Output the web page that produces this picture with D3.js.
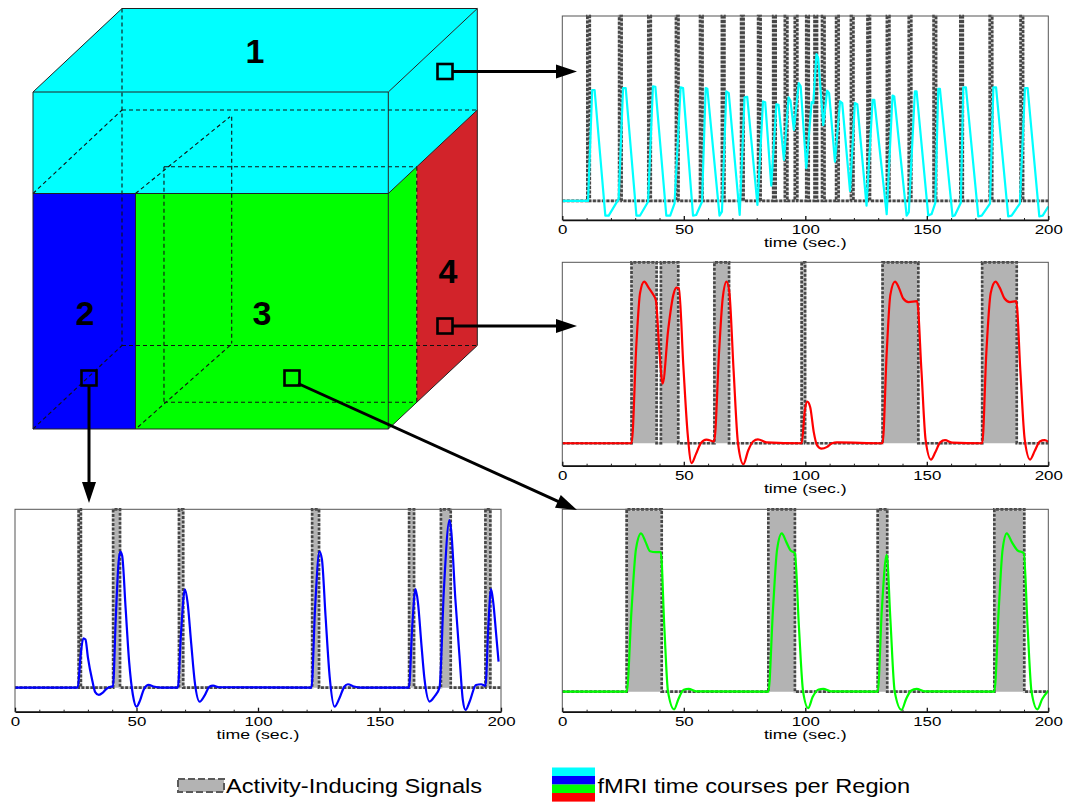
<!DOCTYPE html>
<html>
<head>
<meta charset="utf-8">
<script src="https://cdn.jsdelivr.net/npm/d3@7"></script>
<style>
  body { margin: 0; background: #fff; }
  svg { display: block; font-family: "Liberation Sans", Arial, Helvetica, sans-serif; }
</style>
</head>
<body>
<div id="chart"></div>
<script>
// time axis (seconds)
const timeTicks = [0, 50, 100, 150, 200]
const minorTicks = [10, 20, 30, 40, 60, 70, 80, 90, 110, 120, 130, 140, 160, 170, 180, 190]

// activity-inducing signals per region, [onset, offset] in sec.
const region1Pulses = [[10.3, 11.3], [23.4, 24.4], [35.4, 36.4], [46.8, 47.8], [56.7, 57.7], [65.7, 66.7],
  [73.6, 74.6], [80.6, 81.6], [86.8, 87.8], [91.6, 92.6], [95.7, 96.7], [100.4, 101.4], [103.8, 104.8],
  [106.9, 107.9], [112.7, 113.7], [118.8, 119.8], [125.6, 126.6], [133.6, 134.6], [142.6, 143.6],
  [152.8, 153.8], [163.8, 164.8], [175.9, 176.9], [188.6, 189.6]]
const region2Pulses = [[26.2, 27.1], [40.4, 43.2], [67.5, 69.2], [122.3, 125.1], [162.2, 164.2], [175.3, 179.3], [193.6, 195.6]]
const region3Pulses = [[26.5, 40.9], [84.8, 95.7], [129.8, 133.7], [177.8, 190.1]]
const region4Pulses = [[28.5, 38.8], [40.6, 47.7], [62.6, 68.6], [98.5, 99.9], [131.8, 146.5], [172.8, 187.0]]

// fMRI time courses per region, [time, signal]
const region1Bold = [[0, 0], [10.6, 0], [12.3, 0.6], [13.3, 0.6], [17.7, -0.079], [19.1, -0.079], [23.2, 0.011],
  [25, 0.61], [26.1, 0.61], [30.5, -0.079], [32, -0.079], [35.3, -0.004], [37.3, 0.62], [38.3, 0.617],
  [42.8, -0.079], [44.4, -0.079], [46.2, -0.013], [48.7, 0.614], [49.7, 0.61], [53.8, -0.079], [55.1, -0.076],
  [57.5, -0.004], [59, 0.61], [59.7, 0.606], [64.7, -0.079], [65.7, -0.058], [67.5, 0.592], [68.5, 0.583],
  [73, -0.076], [75, 0.56], [76.1, 0.563], [80.3, -0.022], [82.6, 0.538], [83.5, 0.534], [86, 0.083],
  [88.1, 0.523], [89, 0.52], [91.2, 0.222], [93.1, 0.56], [93.9, 0.542], [95.3, 0.384], [97.3, 0.637],
  [98.1, 0.62], [100.4, 0.177], [102.6, 0.534], [103.3, 0.529], [104.6, 0.794], [105.3, 0.773], [107.4, 0.41],
  [109, 0.596], [109.8, 0.583], [112.2, 0.213], [114.3, 0.538], [115.2, 0.529], [118.4, 0.054], [120.4, 0.529],
  [121.4, 0.523], [125.2, -0.025], [127.7, 0.547], [128.4, 0.547], [133.5, -0.072], [135.9, 0.57], [136.6, 0.565],
  [141.7, -0.079], [142.6, -0.06], [145.1, 0.592], [145.8, 0.592], [150.6, -0.079], [152, -0.07], [153.5, -0.01],
  [154.7, 0.606], [155.4, 0.606], [160.6, -0.083], [161.5, -0.079], [164, -0.01], [165, 0.614], [166.1, 0.614],
  [171.2, -0.083], [172.6, -0.079], [176, -0.014], [177.4, 0.614], [178.5, 0.614], [183.5, -0.083], [184.9, -0.079],
  [188.3, -0.014], [190.4, 0.61], [191.5, 0.61], [196.3, -0.083], [197.7, -0.079], [200, -0.03]]
const region2Bold = [[0, 0], [25.8, 0], [27, 0.18], [28.1, 0.277], [29, 0.27], [30, 0.17], [31.8, 0.04], [33, -0.025],
  [34.5, -0.041], [36, -0.03], [37.5, -0.008], [39.5, 0.006], [40.3, 0.005], [41.5, 0.4], [42.6, 0.7], [43.3, 0.763],
  [44.1, 0.74], [45.5, 0.45], [47, 0.14], [48.5, -0.04], [50, -0.107], [51.5, -0.07], [53, -0.01], [55, 0.015],
  [57, 0.006], [60, 0], [67, 0], [68.3, 0.3], [69.9, 0.551], [71, 0.48], [72.5, 0.25], [74, 0.03], [76, -0.079],
  [78, -0.045], [80, 0.005], [81.5, 0.011], [84, 0.002], [122, 0], [123.5, 0.45], [125.3, 0.763], [126.3, 0.72],
  [127.8, 0.4], [129.5, 0.06], [131.5, -0.107], [133.5, -0.06], [135.5, 0.005], [137, 0.019], [139.5, 0.006],
  [142, 0], [162.1, 0], [163.5, 0.35], [164.8, 0.552], [165.8, 0.48], [167.2, 0.25], [168.5, 0.05], [170.6, -0.078],
  [172.6, -0.05], [174.7, 0], [176.5, 0.55], [178.8, 0.94], [179.5, 0.88], [181.2, 0.5], [182.9, 0.18], [184.3, -0.07],
  [185.4, -0.125], [187.1, -0.078], [189.7, 0.015], [191.8, 0.019], [193.6, 0.01], [194.8, 0.35], [195.9, 0.552],
  [196.8, 0.48], [198, 0.3], [199, 0.146]]
const region3Bold = [[0, 0], [26.5, 0], [28.5, 0.45], [30.3, 0.78], [32.4, 0.868], [34.3, 0.82], [36.1, 0.77],
  [38.5, 0.765], [40.5, 0.765], [42, 0.35], [43.5, 0], [46, -0.097], [47.8, -0.04], [50, 0.01], [52, 0.015],
  [55, 0.002], [84.8, 0], [86.7, 0.45], [88.4, 0.78], [90.3, 0.868], [92.2, 0.82], [93.9, 0.775], [95.7, 0.76],
  [97.4, 0.35], [99.1, 0], [101.2, -0.09], [103, -0.03], [105.5, 0.012], [107.4, 0.015], [110.5, 0.002],
  [129.8, 0], [131.5, 0.45], [133.5, 0.75], [135, 0.4], [136.8, 0], [139.6, -0.1], [141.5, -0.04], [143.5, 0.005],
  [145.8, 0.015], [149, 0.002], [177.8, 0], [179.6, 0.45], [181.2, 0.78], [182.9, 0.868], [185, 0.82],
  [187.3, 0.775], [189.9, 0.76], [191.5, 0.35], [193.1, 0], [195.5, -0.097], [197.5, -0.04], [200, 0.005]]
const region4Bold = [[0, 0], [28.5, 0], [30.5, 0.55], [32, 0.83], [33.7, 0.893], [35.5, 0.86], [37, 0.83],
  [38.5, 0.79], [40, 0.5], [41.3, 0.33], [43.6, 0.63], [45.7, 0.82], [47, 0.86], [48, 0.856], [49.8, 0.43],
  [51.6, 0.05], [53.2, -0.11], [55, -0.06], [57, 0], [59.3, 0.02], [62.5, 0.01], [64.5, 0.5], [66, 0.8],
  [67.6, 0.893], [68.7, 0.84], [70.5, 0.4], [72.3, 0], [74.5, -0.116], [76.5, -0.04], [78.5, 0.01], [80.5, 0.022],
  [84, 0.005], [98.5, 0], [99.8, 0.18], [100.8, 0.23], [102, 0.2], [103.5, 0.06], [104.8, -0.01], [106.7, -0.03],
  [109, -0.02], [111, 0], [113, 0.005], [131.8, 0], [133.5, 0.5], [135, 0.82], [136.9, 0.893], [138.5, 0.86],
  [140.3, 0.8], [142.5, 0.78], [146, 0.785], [147.8, 0.4], [149.5, 0.02], [151.7, -0.09], [153.5, -0.05],
  [155.5, 0.005], [157.5, 0.017], [160.5, 0.003], [172.8, 0], [174.5, 0.5], [176.3, 0.83], [178.3, 0.893],
  [180, 0.86], [182, 0.8], [184.2, 0.78], [186.8, 0.785], [188.5, 0.4], [190.3, 0.02], [192.5, -0.09],
  [194.5, -0.04], [196.5, 0.01], [198.5, 0.017], [200, 0.008]]

const regionLabels = ['1', '2', '3', '4']
const regionColors = ['#00ffff', '#0000ff', '#00ff00', '#ff0000']
const legendLabels = ['Activity-Inducing Signals', 'fMRI time courses per Region']

const W = 1065, H = 803
const plotWidth = 486

const svg = d3.select('#chart').append('svg')
  .attr('width', W)
  .attr('height', H)

svg.append('rect').attr('width', W).attr('height', H).attr('fill', '#fff')

const panels = [
  { pulses: region1Pulses, bold: region1Bold, color: regionColors[0], left: 562.3, top: 16, bottom: 220, yMin: -0.103, curve: d3.curveLinear },
  { pulses: region4Pulses, bold: region4Bold, color: regionColors[3], left: 562.3, top: 262.3, bottom: 465.7, yMin: -0.124, curve: d3.curveMonotoneX },
  { pulses: region3Pulses, bold: region3Bold, color: regionColors[2], left: 562.3, top: 509.3, bottom: 711.7, yMin: -0.11, curve: d3.curveMonotoneX },
  { pulses: region2Pulses, bold: region2Bold, color: regionColors[1], left: 15, top: 509.3, bottom: 711.7, yMin: -0.135, curve: d3.curveMonotoneX }
]

panels.forEach(p => {
  const x = d3.scaleLinear().domain([0, 200]).range([p.left, p.left + plotWidth])
  const y = d3.scaleLinear().domain([p.yMin, 1]).range([p.bottom, p.top])
  const g = svg.append('g')

  // step function of the activity-inducing signal
  const steps = [[0, 0]]
  p.pulses.forEach(([on, off]) => steps.push([on, 0], [on, 1], [off, 1], [off, 0]))
  steps.push([200, 0])

  g.append('path')
    .datum(steps)
    .attr('d', d3.area().x(d => x(d[0])).y0(y(0)).y1(d => y(d[1])))
    .attr('fill', '#b3b3b3')

  const stepLine = d3.line().x(d => x(d[0])).y(d => y(d[1]))
  g.append('path')
    .datum(steps)
    .attr('d', stepLine)
    .attr('fill', 'none')
    .attr('stroke', '#d4d4d4')
    .attr('stroke-width', 2.7)
  g.append('path')
    .datum(steps)
    .attr('d', stepLine)
    .attr('fill', 'none')
    .attr('stroke', '#474747')
    .attr('stroke-width', 2.7)
    .attr('stroke-dasharray', '3,1.5')

  // fMRI response
  g.append('path')
    .datum(p.bold)
    .attr('d', d3.line().curve(p.curve).x(d => x(d[0])).y(d => y(d[1])))
    .attr('fill', 'none')
    .attr('stroke', p.color)
    .attr('stroke-width', 2.2)
    .attr('stroke-linejoin', 'round')

  // frame
  g.append('rect')
    .attr('x', p.left)
    .attr('y', p.top)
    .attr('width', plotWidth)
    .attr('height', p.bottom - p.top)
    .attr('fill', 'none')
    .attr('stroke', '#555')
    .attr('stroke-width', 1)

  g.append('g')
    .attr('transform', `translate(0,${p.bottom})`)
    .call(d3.axisBottom(x).tickValues(minorTicks).tickSize(-2).tickSizeOuter(0).tickFormat(''))
    .call(a => a.select('.domain').remove())
    .selectAll('line').attr('stroke', '#222')

  const ax = g.append('g')
    .attr('transform', `translate(0,${p.bottom})`)
    .call(d3.axisBottom(x).tickValues(timeTicks).tickSize(-4).tickSizeOuter(0).tickPadding(5.2))
    .attr('font-size', 12.8)
    .attr('font-family', '"Liberation Sans", Arial, sans-serif')
  ax.select('.domain').attr('stroke', '#111').attr('stroke-width', 1.5)
  ax.selectAll('line').attr('stroke', '#111').attr('stroke-width', 1.3)
  ax.selectAll('text').attr('fill', '#000').attr('transform', 'scale(1.32,1)')

  g.append('text')
    .attr('transform', `translate(${p.left + plotWidth / 2},${p.bottom + 27}) scale(1.48,1)`)
    .attr('text-anchor', 'middle')
    .attr('font-size', 12)
    .text('time (sec.)')
})

// ---- cube with the four regions ----
const cube = svg.append('g')
const F = { x0: 33, x1: 388.3, y0: 92, y1: 429 }   // front face
const D = [89, -83.5]                               // depth vector
const layerY = 193.5, splitX = 135.5, redDepth = 0.32
const pt = (x, y, k = 0) => [x + D[0] * k, y + D[1] * k]

const faces = [
  { pts: [pt(F.x0, F.y0), pt(F.x0, F.y0, 1), pt(F.x1, F.y0, 1), pt(F.x1, F.y0)], fill: regionColors[0] },
  { pts: [pt(F.x0, F.y0), pt(F.x1, F.y0), pt(F.x1, layerY), pt(F.x0, layerY)], fill: regionColors[0] },
  { pts: [pt(F.x1, F.y0), pt(F.x1, F.y0, 1), pt(F.x1, layerY, 1), pt(F.x1, layerY)], fill: regionColors[0] },
  { pts: [pt(F.x0, layerY), pt(splitX, layerY), pt(splitX, F.y1), pt(F.x0, F.y1)], fill: regionColors[1] },
  { pts: [pt(splitX, layerY), pt(F.x1, layerY), pt(F.x1, F.y1), pt(splitX, F.y1)], fill: regionColors[2] },
  { pts: [pt(F.x1, layerY), pt(F.x1, layerY, redDepth), pt(F.x1, F.y1, redDepth), pt(F.x1, F.y1)], fill: regionColors[2] },
  { pts: [pt(F.x1, layerY, redDepth), pt(F.x1, layerY, 1), pt(F.x1, F.y1, 1), pt(F.x1, F.y1, redDepth)], fill: '#d2232a' }
]
cube.selectAll('polygon')
  .data(faces)
  .enter()
  .append('polygon')
  .attr('points', d => d.pts.map(q => q.join(',')).join(' '))
  .attr('fill', d => d.fill)

const hidden = [
  [pt(F.x0, F.y0, 1), pt(F.x0, F.y1, 1)],
  [pt(F.x0, F.y1, 1), pt(F.x1, F.y1, 1)],
  [pt(F.x0, F.y1), pt(F.x0, F.y1, 1)],
  [pt(F.x0, layerY), pt(F.x0, layerY, 1)],
  [pt(F.x0, layerY, 1), pt(F.x1, layerY, 1)],
  [[splitX, layerY], [230, 116.7]],
  [[231.7, 116.7], [231.7, 343.5]],
  [[138, 427], [231.7, 344]],
  [pt(splitX, layerY, redDepth), pt(splitX, F.y1, redDepth)],
  [pt(splitX, layerY, redDepth), pt(F.x1, layerY, redDepth)],
  [pt(splitX, F.y1, redDepth), pt(F.x1, F.y1, redDepth)],
  [pt(F.x1, layerY, redDepth), pt(F.x1, F.y1, redDepth)]
]
cube.selectAll('.hidden')
  .data(hidden)
  .enter()
  .append('line')
  .attr('class', 'hidden')
  .attr('x1', d => d[0][0]).attr('y1', d => d[0][1])
  .attr('x2', d => d[1][0]).attr('y2', d => d[1][1])
  .attr('stroke', '#111')
  .attr('stroke-width', 1.1)
  .attr('stroke-dasharray', '4,3')

const edges = [
  [pt(F.x0, F.y0), pt(F.x1, F.y0)], [pt(F.x0, F.y1), pt(F.x1, F.y1)],
  [pt(F.x0, F.y0), pt(F.x0, F.y1)], [pt(F.x1, F.y0), pt(F.x1, F.y1)],
  [pt(F.x0, F.y0), pt(F.x0, F.y0, 1)], [pt(F.x0, F.y0, 1), pt(F.x1, F.y0, 1)],
  [pt(F.x1, F.y0), pt(F.x1, F.y0, 1)], [pt(F.x1, F.y0, 1), pt(F.x1, F.y1, 1)],
  [pt(F.x1, F.y1), pt(F.x1, F.y1, 1)],
  [pt(F.x0, layerY), pt(F.x1, layerY)], [pt(F.x1, layerY), pt(F.x1, layerY, 1)],
  [pt(splitX, layerY), pt(splitX, F.y1)]
]
cube.selectAll('.edge')
  .data(edges)
  .enter()
  .append('line')
  .attr('class', 'edge')
  .attr('x1', d => d[0][0]).attr('y1', d => d[0][1])
  .attr('x2', d => d[1][0]).attr('y2', d => d[1][1])
  .attr('stroke', '#222')
  .attr('stroke-width', 1)

const labelPos = [[255, 51], [85, 313], [262, 313], [448, 271]]
cube.selectAll('.region-label')
  .data(regionLabels)
  .enter()
  .append('text')
  .attr('class', 'region-label')
  .attr('x', (d, i) => labelPos[i][0])
  .attr('y', (d, i) => labelPos[i][1])
  .attr('text-anchor', 'middle')
  .attr('dominant-baseline', 'central')
  .attr('font-size', 34)
  .attr('font-weight', 'bold')
  .text(d => d)

// ---- probes and arrows to the time courses ----
const probes = [
  { sq: [445, 71.5], from: [453, 71.5], to: [577, 71.5] },
  { sq: [89, 378], from: [89, 386], to: [89, 503] },
  { sq: [292, 378], from: [298, 383.5], to: [577, 510] },
  { sq: [445, 326], from: [453, 326], to: [577, 326] }
]
const arrows = svg.append('g')
probes.forEach(a => {
  arrows.append('rect')
    .attr('x', a.sq[0] - 7.5)
    .attr('y', a.sq[1] - 7.5)
    .attr('width', 15)
    .attr('height', 15)
    .attr('fill', 'none')
    .attr('stroke', '#000')
    .attr('stroke-width', 2.6)
  const dx = a.to[0] - a.from[0], dy = a.to[1] - a.from[1]
  const len = Math.hypot(dx, dy), ux = dx / len, uy = dy / len
  const headL = 21, headW = 7
  const bx = a.to[0] - ux * headL, by = a.to[1] - uy * headL
  arrows.append('line')
    .attr('x1', a.from[0]).attr('y1', a.from[1])
    .attr('x2', bx + ux * 2).attr('y2', by + uy * 2)
    .attr('stroke', '#000')
    .attr('stroke-width', 3)
  arrows.append('polygon')
    .attr('points', [[a.to[0], a.to[1]], [bx - uy * headW, by + ux * headW], [bx + uy * headW, by - ux * headW]].map(q => q.join(',')).join(' '))
    .attr('fill', '#000')
})

// ---- legend ----
const legend = svg.append('g')
legend.append('rect')
  .attr('x', 178).attr('y', 779)
  .attr('width', 46).attr('height', 13)
  .attr('fill', '#b3b3b3')
  .attr('stroke', '#5a5a5a')
  .attr('stroke-width', 2)
  .attr('stroke-dasharray', '7,3')
legend.append('text')
  .attr('transform', 'translate(226,793) scale(1.2,1)')
  .attr('font-size', 19.7)
  .text(legendLabels[0])

legend.selectAll('.band')
  .data(regionColors)
  .enter()
  .append('rect')
  .attr('class', 'band')
  .attr('x', 552)
  .attr('y', (d, i) => 767.5 + i * 8.5)
  .attr('width', 43)
  .attr('height', 8.6)
  .attr('fill', d => d)
legend.append('text')
  .attr('transform', 'translate(597.5,793) scale(1.2,1)')
  .attr('font-size', 19.7)
  .text(legendLabels[1])
</script>
</body>
</html>
